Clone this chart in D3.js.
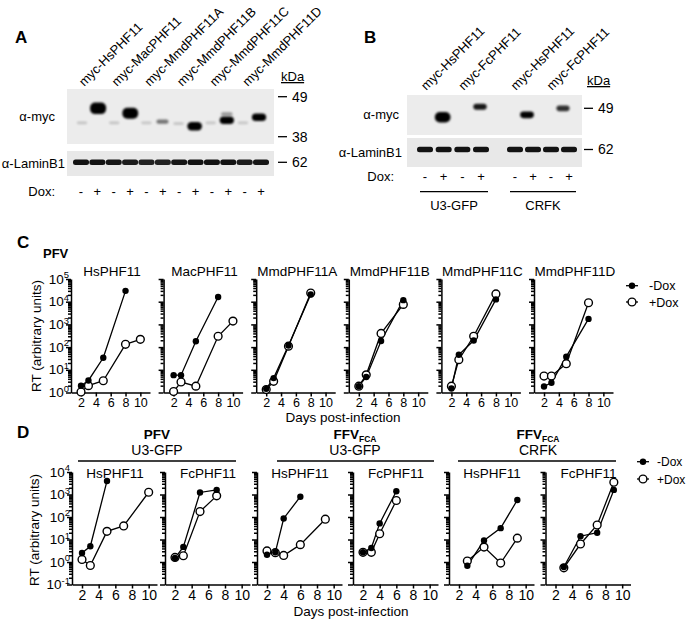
<!DOCTYPE html>
<html><head><meta charset="utf-8">
<script src="https://cdn.jsdelivr.net/npm/d3@7"></script>
<style>
body{margin:0;background:#fff}
svg{display:block}
text{font-family:"Liberation Sans",Arial,sans-serif;fill:#000}
</style>
</head><body>
<svg id="fig" width="688" height="620"></svg>
<script>
// ---------------- DATA ----------------
// Panel A (western blot)
const aLaneLabels = ["myc-HsPHF11","myc-MacPHF11","myc-MmdPHF11A","myc-MmdPHF11B","myc-MmdPHF11C","myc-MmdPHF11D"];
const aDox = ["-","+","-","+","-","+","-","+","-","+","-","+"];
const aMycBands = [
  {lane:0,kda:41.5,i:0.035},{lane:1,kda:45.5,i:1.0},{lane:2,kda:41.5,i:0.035},{lane:3,kda:44.1,i:0.95},
  {lane:4,kda:41.5,i:0.03},{lane:5,kda:41.8,i:0.2},{lane:6,kda:41.3,i:0.035},{lane:7,kda:40.6,i:0.65},
  {lane:8,kda:41.5,i:0.03},{lane:9,kda:42.2,i:0.55},{lane:9,kda:43.9,i:0.13},{lane:10,kda:41.5,i:0.03},
  {lane:11,kda:43.0,i:0.55}
];
const aLamin = [0.92,0.92,0.9,0.88,0.85,0.85,0.9,0.92,0.92,0.92,0.88,0.9];
const aMarkers = [49,38];
// Panel B
const bLaneLabels = ["myc-HsPHF11","myc-FcPHF11","myc-HsPHF11","myc-FcPHF11"];
const bDox = ["-","+","-","+","-","+","-","+"];
const bMycBands = [{lane:1,kda:46.3,i:0.9},{lane:3,kda:49.5,i:0.4},{lane:5,kda:47.0,i:0.45},{lane:7,kda:49.0,i:0.35}];
const bLamin = [0.92,0.92,0.92,0.92,0.92,0.92,0.92,0.92];
const bGroups = ["U3-GFP","CRFK"];
const laminMarker = 62;

// Panel C (PFV)
const cTitles = ["HsPHF11","MacPHF11","MmdPHF11A","MmdPHF11B","MmdPHF11C","MmdPHF11D"];
const cMinusDays = [[2,3,5,8],[2,3,5,8],[2,3,5,8],[2,3,5,8],[2,3,5,8],[2,3,5,8]];
const cMinusVals = [[2.0,3.4,34,30000],[5.8,5.8,180,16000],[1.45,4.3,117,21000],[1.9,4.8,186,11700],[1.5,46,195,12600],[1.85,2.7,38,1750]];
const cPlusDays  = [[2,3,5,8,10],[2,3,5,8,10],[2,3,5,8],[2,3,5,8],[2,3,5,8],[2,3,5,8]];
const cPlusVals  = [[1.05,2.0,3.3,133,220],[1.1,2.9,1.9,300,1400],[1.35,3.1,110,24000],[1.9,6,400,7600],[1.9,28,300,22000],[5.3,5.3,18.6,9000]];

// Panel D
const dTitles = ["HsPHF11","FcPHF11","HsPHF11","FcPHF11","HsPHF11","FcPHF11"];
const dMinusDays = [[2,3,5],[2,3,5,7],[2,3,4,6],[2,3,4,6],[3,5,7,9],[3,5,7,9]];
const dMinusVals = [[2.5,5,4000],[1.5,4.7,1230,1600],[2.1,2.7,86,800],[2.7,4.2,52,1400],[0.68,9,32,570],[0.6,14,20,1600]];
const dPlusDays  = [[2,3,5,7,10],[2,3,5,7],[2,3,4,6,9],[2,3,4,6],[3,5,7,9],[3,5,7,9]];
const dPlusVals  = [[1.3,0.7,23,40,1260],[1.6,1.9,175,870],[3.1,2.6,1.95,5.9,80],[2.7,2.7,18,540],[1.1,4.6,0.9,11.5],[0.55,6.3,44,3500]];
const dGroupVirus = ["PFV","FFV","FFV"];
const dGroupCell = ["U3-GFP","U3-GFP","CRFK"];

const xTicks = [2,4,6,8,10];
const legendLabels = ["-Dox","+Dox"];

// ---------------- DRAW ----------------
const svg = d3.select("#fig");
const defs = svg.append("defs");
defs.append("filter").attr("id","blur").attr("x","-50%").attr("y","-100%").attr("width","200%").attr("height","300%")
  .append("feGaussianBlur").attr("stdDeviation",1.1);
defs.append("filter").attr("id","blur2").attr("x","-50%").attr("y","-100%").attr("width","200%").attr("height","300%")
  .append("feGaussianBlur").attr("stdDeviation",0.6);

function panelLetter(t,x,y){
  svg.append("text").attr("x",x).attr("y",y).attr("font-size",17).attr("font-weight","bold").text(t);
}
panelLetter("A",15,43); panelLetter("B",364,43); panelLetter("C",17,248); panelLetter("D",17,438);

function bandSize(i){ return {w:9+7*Math.sqrt(i), h:2.5+9*i, op:Math.min(1,0.1+2*i)}; }

function drawBlot(cfg){
  const g = svg.append("g");
  g.append("rect").attr("x",cfg.x0).attr("y",cfg.mycTop).attr("width",cfg.x1-cfg.x0).attr("height",cfg.mycBot-cfg.mycTop).attr("fill","#ececec");
  g.append("rect").attr("x",cfg.x0).attr("y",cfg.lamTop).attr("width",cfg.x1-cfg.x0).attr("height",cfg.lamBot-cfg.lamTop).attr("fill","#e8e8e8");
  const yk = d3.scaleLog().domain([38,49]).range([cfg.y49+40, cfg.y49]);
  g.selectAll(".mb").data(cfg.myc).join("rect")
    .each(function(d){
      const s = bandSize(d.i);
      d3.select(this).attr("x",cfg.mycLane(d.lane)-s.w/2).attr("y",yk(d.kda)-s.h/2)
        .attr("width",s.w).attr("height",s.h).attr("rx",Math.min(s.h/2,5))
        .attr("fill","#000").attr("opacity",s.op).attr("filter","url(#blur)");
    });
  g.selectAll(".lb").data(cfg.lamin).join("rect")
    .attr("x",(d,i)=>cfg.lamLane(i)-8).attr("y",cfg.y62-2.7).attr("width",16).attr("height",5.4).attr("rx",2.5)
    .attr("fill","#000").attr("opacity",d=>d).attr("filter","url(#blur2)");
  g.selectAll(".dx").data(cfg.dox).join("text")
    .attr("x",(d,i)=>cfg.lamLane(i)).attr("y",cfg.doxY).attr("text-anchor","middle").attr("font-size",13).text(d=>d);
  g.selectAll(".ll").data(cfg.labels).join("text")
    .attr("transform",(d,i)=>`translate(${cfg.labelX(i)},${cfg.labelY}) rotate(-45)`)
    .attr("font-size",13).text(d=>d);
  g.append("text").attr("x",cfg.kx).attr("y",cfg.kdaY).attr("font-size",13).attr("text-decoration","underline").text("kDa");
  const marks = cfg.markers.map(m=>({m, y:yk(m)})).concat([{m:laminMarker,y:cfg.y62}]);
  marks.forEach(mk=>{
    g.append("line").attr("x1",cfg.kx-3).attr("x2",cfg.kx+6).attr("y1",mk.y).attr("y2",mk.y).attr("stroke","#000").attr("stroke-width",1.3);
    g.append("text").attr("x",cfg.kx+11).attr("y",mk.y+4.8).attr("font-size",14).text(mk.m);
  });
  g.append("text").attr("x",cfg.mycLabX).attr("y",(cfg.mycTop+cfg.mycBot)/2+4).attr("font-size",13).attr("text-anchor",cfg.labAnchor).text("α-myc");
  g.append("text").attr("x",cfg.lamLabX).attr("y",(cfg.lamTop+cfg.lamBot)/2+4.5).attr("font-size",13).attr("text-anchor",cfg.labAnchor).text("α-LaminB1");
  g.append("text").attr("x",cfg.doxLabX).attr("y",cfg.doxY).attr("font-size",13).attr("text-anchor",cfg.labAnchor).text("Dox:");
  return g;
}

// Panel A
const aLam = d3.scalePoint().domain(d3.range(12)).range([81,261]);
const aMyc = d3.scalePoint().domain(d3.range(12)).range([82,259]);
drawBlot({x0:67,x1:274,mycTop:89,mycBot:144,lamTop:151,lamBot:176,y49:96.7,y62:162.3,
  myc:aMycBands,lamin:aLamin,dox:aDox,labels:aLaneLabels,markers:aMarkers,
  mycLane:aMyc,lamLane:aLam,doxY:196,labelY:87,labelX:i=>(aLam(2*i)+aLam(2*i+1))/2-5,
  kx:281,kdaY:81,mycLabX:55,lamLabX:65,doxLabX:55,labAnchor:"end"});

// Panel B
const bGroupLane = [d3.scalePoint().domain(d3.range(4)).range([425,481]), d3.scalePoint().domain(d3.range(4)).range([515,569])];
const bLam = i => i<4 ? bGroupLane[0](i) : bGroupLane[1](i-4);
drawBlot({x0:407,x1:582,mycTop:95,mycBot:135,lamTop:138,lamBot:167,y49:108.3,y62:149.5,
  myc:bMycBands,lamin:bLamin,dox:bDox,labels:bLaneLabels,markers:[49],
  mycLane:i=>bLam(i)+(i<4?-1:-6),lamLane:bLam,doxY:181,labelY:91,labelX:i=>(bLam(2*i)+bLam(2*i+1))/2-8,
  kx:587,kdaY:85,mycLabX:399,lamLabX:402,doxLabX:394,labAnchor:"end"});
bGroups.forEach((name,k)=>{
  const sc = bGroupLane[k];
  const xa = sc(0)-5, xb = sc(3)+7;
  svg.append("line").attr("x1",xa).attr("x2",xb).attr("y1",191.7).attr("y2",191.7).attr("stroke","#000").attr("stroke-width",1.3);
  svg.append("text").attr("x",(xa+xb)/2).attr("y",210).attr("text-anchor","middle").attr("font-size",13).text(name);
});

// ---------- Line charts ----------
function fmtSup(sel, e, fs){
  sel.text(null);
  sel.append("tspan").text("10");
  sel.append("tspan").attr("dy",-5.5).attr("font-size",fs*0.7).text(e);
}

function drawPlot(opts){
  const g = svg.append("g");
  const x = d3.scaleLinear().domain(opts.xdom).range([opts.x0, opts.x0+opts.w]);
  const y = d3.scaleLog().domain(opts.ydom).range([opts.yb, opts.yt]);
  const eLo = Math.round(Math.log10(opts.ydom[0])), eHi = Math.round(Math.log10(opts.ydom[1]));
  const majors = d3.range(eLo, eHi+1).map(e=>Math.pow(10,e));
  const minors = [];
  for(let e=eLo;e<eHi;e++) for(let k=2;k<=9;k++) minors.push(k*Math.pow(10,e));
  const ya = g.append("g").attr("transform",`translate(${opts.x0},0)`)
    .call(d3.axisLeft(y).tickValues(majors).tickSize(5).tickSizeOuter(0).tickFormat(""));
  const ym = g.append("g").attr("transform",`translate(${opts.x0},0)`)
    .call(d3.axisLeft(y).tickValues(minors).tickSize(3).tickSizeOuter(0).tickFormat(""));
  ym.select(".domain").remove();
  if(opts.yLabels){
    majors.forEach(v=>{
      const t = g.append("text").attr("x",opts.x0-2).attr("y",y(v)+4.6).attr("text-anchor","end").attr("font-size",13.5);
      fmtSup(t, String(Math.round(Math.log10(v))), 13.5);
    });
  }
  const xa = g.append("g").attr("transform",`translate(0,${opts.yb})`)
    .call(d3.axisBottom(x).tickValues(xTicks).tickSize(4).tickPadding(opts.tickPad).tickSizeOuter(0));
  xa.selectAll("text").attr("font-size",opts.xfs).attr("font-family",'"Liberation Sans",Arial,sans-serif').attr("fill","#000");
  [ya,ym,xa].forEach(a=>a.selectAll("path,line").attr("stroke","#000").attr("stroke-width",1.5));
  g.append("text").attr("x",opts.x0+opts.tdx).attr("y",opts.ty).attr("text-anchor","middle").attr("font-size",13.5).text(opts.title);
  const line = d3.line().x(d=>x(d[0])).y(d=>y(d[1]));
  const minus = opts.mDays.map((d,i)=>[d,opts.mVals[i]]);
  const plus = opts.pDays.map((d,i)=>[d,opts.pVals[i]]);
  g.append("path").datum(plus).attr("d",line).attr("fill","none").attr("stroke","#000").attr("stroke-width",1.3);
  g.append("path").datum(minus).attr("d",line).attr("fill","none").attr("stroke","#000").attr("stroke-width",1.3);
  g.selectAll(".po").data(plus).join("circle").attr("cx",d=>x(d[0])).attr("cy",d=>y(d[1])).attr("r",3.9)
    .attr("fill","#fff").attr("stroke","#000").attr("stroke-width",1.4);
  g.selectAll(".mi").data(minus).join("circle").attr("cx",d=>x(d[0])).attr("cy",d=>y(d[1])).attr("r",3.2).attr("fill","#000");
}

// Panel C
svg.append("text").attr("x",43).attr("y",258).attr("font-size",13).attr("font-weight","bold").text("PFV");
const cX0 = d3.range(6).map(i=>71+i*92.6);
cTitles.forEach((t,i)=>{
  drawPlot({x0:cX0[i],w:79,xdom:[0.65,11.3],ydom:[1,1e5],yb:392.5,yt:279,yLabels:i===0,
    title:t,tdx:41,ty:276,xfs:12.5,tickPad:2,
    mDays:cMinusDays[i],mVals:cMinusVals[i],pDays:cPlusDays[i],pVals:cPlusVals[i]});
});
svg.append("text").attr("transform","translate(41,336) rotate(-90)").attr("text-anchor","middle").attr("font-size",13.5).text("RT (arbitrary units)");
svg.append("text").attr("x",343).attr("y",421.5).attr("text-anchor","middle").attr("font-size",13.5).text("Days post-infection");

// Panel D
const dX0 = [72,165,257,353,449,545.5];
dTitles.forEach((t,i)=>{
  drawPlot({x0:dX0[i],w:85,xdom:[0.8,11],ydom:[0.1,1e4],yb:584.5,yt:472,yLabels:i===0,
    title:t,tdx:43,ty:478,xfs:14,tickPad:2,
    mDays:dMinusDays[i],mVals:dMinusVals[i],pDays:dPlusDays[i],pVals:dPlusVals[i]});
});
svg.append("text").attr("transform","translate(39,530) rotate(-90)").attr("text-anchor","middle").attr("font-size",13.5).text("RT (arbitrary units)");
svg.append("text").attr("x",351).attr("y",616).attr("text-anchor","middle").attr("font-size",13.5).text("Days post-infection");
const dHead = [{c:157,x1:78,x2:236},{c:355,x1:277,x2:434},{c:538,x1:458,x2:616}];
dHead.forEach((h,k)=>{
  const t = svg.append("text").attr("x",h.c).attr("y",439).attr("text-anchor","middle").attr("font-size",13.5).attr("font-weight","bold");
  t.append("tspan").text(dGroupVirus[k]);
  if(dGroupVirus[k]==="FFV") t.append("tspan").attr("font-size",8.5).attr("dy",2.5).text("FCA");
  svg.append("text").attr("x",h.c).attr("y",455).attr("text-anchor","middle").attr("font-size",14).text(dGroupCell[k]);
  svg.append("line").attr("x1",h.x1).attr("x2",h.x2).attr("y1",461).attr("y2",461).attr("stroke","#000").attr("stroke-width",1.3);
});

// Legends
function legend(x, y0, dy, tx, fs){
  legendLabels.forEach((lab,i)=>{
    const y = y0+i*dy;
    svg.append("line").attr("x1",x-6).attr("x2",x+6).attr("y1",y).attr("y2",y).attr("stroke","#000").attr("stroke-width",1.3);
    if(i===0) svg.append("circle").attr("cx",x).attr("cy",y).attr("r",3.2).attr("fill","#000");
    else svg.append("circle").attr("cx",x).attr("cy",y).attr("r",3.9).attr("fill","#fff").attr("stroke","#000").attr("stroke-width",1.4);
    svg.append("text").attr("x",x+tx).attr("y",y+4.5).attr("font-size",fs).text(lab);
  });
}
legend(632,285.7,16.3,17,12.5);
legend(643,461.7,17.3,14,12);
</script>
</body></html>
